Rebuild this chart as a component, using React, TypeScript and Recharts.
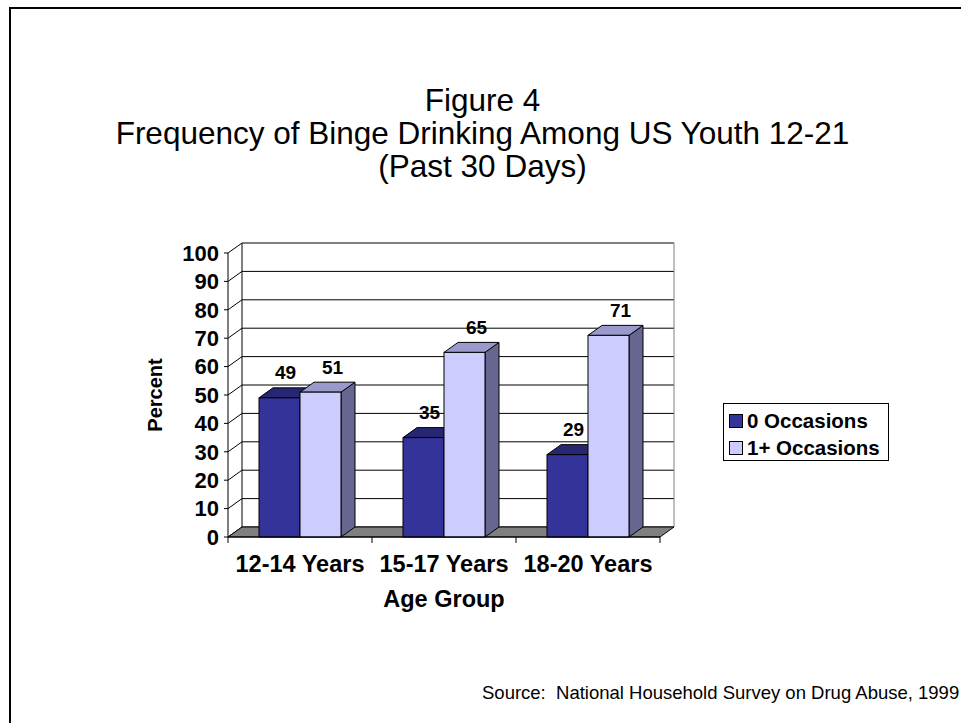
import React from 'react';
import {
  BarChart,
  Bar,
  XAxis,
  YAxis,
  CartesianGrid,
  ReferenceArea,
  Legend,
  LabelList,
  Label,
} from 'recharts';

// ---- data ----
const categories = ['12-14 Years', '15-17 Years', '18-20 Years'];
const zeroOccasions = [49, 35, 29];
const onePlusOccasions = [51, 65, 71];
const yTicks = [0, 10, 20, 30, 40, 50, 60, 70, 80, 90, 100];
const seriesNames = ['0 Occasions', '1+ Occasions'];
const titleLines = ['Figure 4', 'Frequency of Binge Drinking Among US Youth 12-21', '(Past 30 Days)'];
const sourceText = 'Source:  National Household Survey on Drug Abuse, 1999';

const data = categories.map((c, i) => ({
  category: c,
  zero: zeroOccasions[i],
  onePlus: onePlusOccasions[i],
}));

// ---- style ----
const FONT = '"Liberation Sans", Arial, Helvetica, sans-serif';
const DX = 14;
const DY = 10;
const DARK = { front: '#333399', top: '#262673', side: '#1f1f5c' };
const LIGHT = { front: '#CCCCFF', top: '#9999CC', side: '#666690' };

const make3DBar = (colors: { front: string; top: string; side: string }) => (props: any) => {
  const { x, y, width, height } = props;
  if (width == null || height == null) return null;
  const sw = 1;
  return (
    <g>
      <polygon
        points={`${x + width},${y} ${x + width + DX},${y - DY} ${x + width + DX},${y + height - DY} ${x + width},${y + height}`}
        fill={colors.side}
        stroke="#000"
        strokeWidth={sw}
        strokeLinejoin="round"
      />
      <polygon
        points={`${x},${y} ${x + DX},${y - DY} ${x + width + DX},${y - DY} ${x + width},${y}`}
        fill={colors.top}
        stroke="#000"
        strokeWidth={sw}
        strokeLinejoin="round"
      />
      <rect x={x} y={y} width={width} height={height} fill={colors.front} stroke="#000" strokeWidth={sw} />
    </g>
  );
};

const makeValueLabel = (dx: number) => (props: any) => {
  const { x, y, width, value } = props;
  return (
    <text
      x={x + width / 2 + dx}
      y={y - 18.5}
      textAnchor="middle"
      fontFamily={FONT}
      fontWeight="bold"
      fontSize={19}
      fill="#000"
    >
      {value}
    </text>
  );
};

const gridLine = (props: any) => {
  const { x1, y1, x2, key } = props;
  return (
    <g key={key}>
      <line x1={x1} y1={y1} x2={x1 + DX} y2={y1 - DY} stroke="#000" strokeWidth={1} />
      <line x1={x1 + DX} y1={y1 - DY} x2={x2 + DX} y2={y1 - DY} stroke="#000" strokeWidth={1} />
    </g>
  );
};

const wallShape = (props: any) => {
  const { x, y, width, height } = props;
  const bottom = y + height;
  return (
    <g>
      <line x1={x + DX} y1={y - DY} x2={x + DX} y2={bottom - DY} stroke="#000" strokeWidth={1} />
      <line x1={x + width + DX} y1={y - DY} x2={x + width + DX} y2={bottom - DY} stroke="#808080" strokeWidth={1} />
      <polygon
        points={`${x},${bottom} ${x + DX},${bottom - DY} ${x + width + DX},${bottom - DY} ${x + width},${bottom}`}
        fill="#808080"
        stroke="#000"
        strokeWidth={1}
      />
    </g>
  );
};

const XTick = (props: any) => {
  const { x, y, payload, width, visibleTicksCount, index } = props;
  const half =
    payload && typeof payload.offset === 'number' && payload.offset > 0
      ? payload.offset
      : width / (visibleTicksCount || 3) / 2;
  return (
    <g>
      {index === 0 && <line x1={x - half} y1={y} x2={x - half} y2={y + 6} stroke="#000" />}
      <line x1={x + half} y1={y} x2={x + half} y2={y + 6} stroke="#000" />
      <text x={x} y={y + 35} textAnchor="middle" fontFamily={FONT} fontWeight="bold" fontSize={23.5} fill="#000">
        {payload.value}
      </text>
    </g>
  );
};

const LegendContent = (props: any) => {
  const payload = props.payload || [];
  return (
    <div
      style={{
        border: '1px solid #000',
        background: '#fff',
        width: 166,
        height: 58,
        boxSizing: 'border-box',
        padding: '3px 0 0 5px',
        fontFamily: FONT,
        fontWeight: 'bold',
        fontSize: 20.5,
        color: '#000',
      }}
    >
      {payload.map((p: any, i: number) => (
        <div key={i} style={{ display: 'flex', alignItems: 'center', height: 27 }}>
          <span
            style={{
              display: 'inline-block',
              width: 12,
              height: 12,
              border: '1px solid #000',
              background: p.color,
              marginRight: 4,
            }}
          />
          <span>{p.value}</span>
        </div>
      ))}
    </div>
  );
};

export default function App() {
  return (
    <div style={{ position: 'absolute', left: 0, top: 0, width: 961, height: 723, background: '#fff', overflow: 'hidden' }}>
      <div
        style={{
          position: 'absolute',
          left: 9,
          top: 7,
          width: 1000,
          height: 800,
          border: '2px solid #000',
        }}
      />
      <div
        style={{
          position: 'absolute',
          left: 0,
          top: 84,
          width: 965,
          textAlign: 'center',
          fontFamily: FONT,
          fontSize: 31.5,
          lineHeight: '33px',
          color: '#000',
        }}
      >
        {titleLines.map((t, i) => (
          <div key={i}>{t}</div>
        ))}
      </div>
      <div
        style={{
          position: 'absolute',
          left: 482,
          top: 683,
          fontFamily: FONT,
          fontSize: 18.5,
          lineHeight: '20px',
          whiteSpace: 'pre',
          color: '#000',
        }}
      >
        {sourceText}
      </div>
      <div style={{ position: 'absolute', left: 0, top: 0 }}>
        <BarChart
          width={961}
          height={723}
          data={data}
          margin={{ top: 253, right: 301, bottom: 106, left: 168 }}
          barCategoryGap={31}
          barGap={0}
        >
          <CartesianGrid horizontal={gridLine} vertical={false} />
          <ReferenceArea y1={0} y2={100} shape={wallShape} ifOverflow="visible" />
          <XAxis
            dataKey="category"
            height={80}
            tickSize={0}
            tickMargin={0}
            tickLine={false}
            axisLine={{ stroke: '#000' }}
            tick={<XTick />}
            interval={0}
          >
            <Label
              content={(p: any) => {
                const vb = p.viewBox || {};
                return (
                  <text
                    x={vb.x + vb.width / 2}
                    y={vb.y + 70}
                    textAnchor="middle"
                    fontFamily={FONT}
                    fontWeight="bold"
                    fontSize={23.5}
                    fill="#000"
                  >
                    Age Group
                  </text>
                );
              }}
            />
          </XAxis>
          <YAxis
            width={60}
            domain={[0, 100]}
            ticks={yTicks}
            interval={0}
            tickSize={4}
            tickMargin={5}
            tickLine={{ stroke: '#000' }}
            axisLine={{ stroke: '#000' }}
            tick={{ fill: '#000', fontFamily: FONT, fontWeight: 'bold', fontSize: 22 }}
          >
            <Label
              content={(p: any) => {
                const vb = p.viewBox || {};
                const cx = vb.x + vb.width - 73;
                const cy = vb.y + vb.height / 2;
                return (
                  <text
                    x={cx}
                    y={cy}
                    transform={`rotate(-90, ${cx}, ${cy})`}
                    textAnchor="middle"
                    dominantBaseline="central"
                    fontFamily={FONT}
                    fontWeight="bold"
                    fontSize={20}
                    fill="#000"
                  >
                    Percent
                  </text>
                );
              }}
            />
          </YAxis>
          <Legend
            layout="horizontal"
            verticalAlign="middle"
            align="center"
            content={<LegendContent />}
            wrapperStyle={{ left: 723, top: 403, width: 166, height: 58 }}
          />
          <Bar
            dataKey="zero"
            name={seriesNames[0]}
            fill={DARK.front}
            shape={make3DBar(DARK)}
            isAnimationActive={false}
          >
            <LabelList dataKey="zero" content={makeValueLabel(6)} />
          </Bar>
          <Bar
            dataKey="onePlus"
            name={seriesNames[1]}
            fill={LIGHT.front}
            shape={make3DBar(LIGHT)}
            isAnimationActive={false}
          >
            <LabelList dataKey="onePlus" content={makeValueLabel(12)} />
          </Bar>
        </BarChart>
      </div>
    </div>
  );
}
